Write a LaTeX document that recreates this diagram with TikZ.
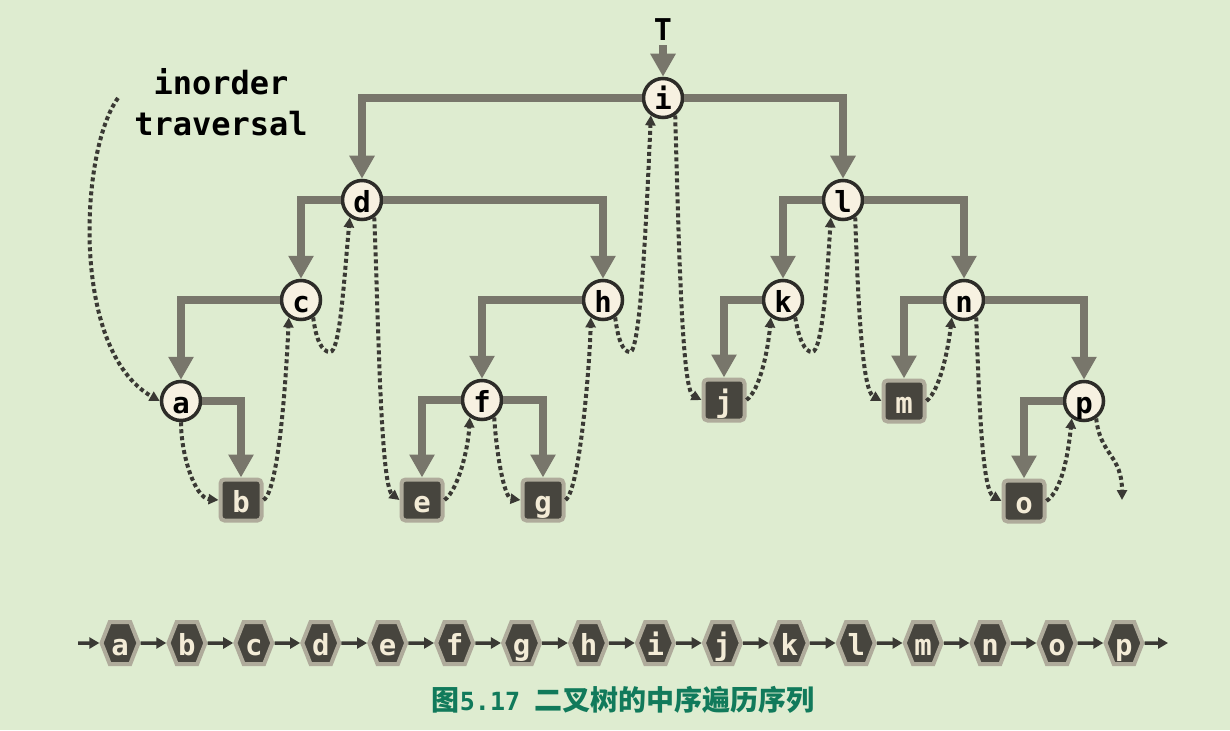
\documentclass[tikz,border=0pt]{standalone}
\usepackage{fontspec}
\setmonofont{DejaVu Sans Mono}
\newfontfamily\cjk{Noto Sans CJK SC}
\usetikzlibrary{arrows.meta,shapes.symbols}
\definecolor{bg}{HTML}{DEECD0}
\definecolor{edgegray}{HTML}{78766B}
\definecolor{cfill}{HTML}{F7F1E1}
\definecolor{cborder}{HTML}{2D2C28}
\definecolor{sqfill}{HTML}{47453E}
\definecolor{sqborder}{HTML}{AFAB9B}
\definecolor{cream}{HTML}{F3EBD6}
\definecolor{dotc}{HTML}{3A3934}
\definecolor{capc}{HTML}{117A5B}
\newcommand\lettfont{\fontsize{29}{29}\selectfont\ttfamily\bfseries}
\begin{document}
\begin{tikzpicture}[x=1pt,y=-1pt,
  tnode/.style={circle, draw=cborder, fill=cfill, line width=3.5pt, minimum size=39pt,
    inner sep=0pt, font=\lettfont, text=black, text height=24pt, text depth=0pt},
  sqnode/.style={rectangle, rounded corners=4pt, draw=sqborder, fill=sqfill, line width=4pt,
    minimum size=41pt, inner sep=0pt, font=\lettfont, text=cream, text height=24pt, text depth=0pt},
  hexnode/.style={signal, signal to=east and west, signal pointer angle=137, draw=sqborder,
    fill=sqfill, line width=4pt, minimum width=37pt, minimum height=42pt, inner sep=0pt,
    font=\lettfont, text=cream, text height=24pt, text depth=0pt},
  treeedge/.style={draw=edgegray, line width=8pt, -{Triangle[width=24pt,length=23pt]}},
  walk/.style={draw=dotc, line width=4pt, dash pattern=on 4pt off 3pt,
    -{Triangle[width=10pt,length=10pt]}},
  chain/.style={draw=dotc, line width=3.5pt, -{Triangle[width=11pt,length=10pt]}},
  lbl/.style={font=\fontsize{32}{41}\selectfont\ttfamily\bfseries, text=black, inner sep=0pt}
]
\fill[bg] (0,0) rectangle (1230,730);
\useasboundingbox (0,0) rectangle (1230,730);

% tree nodes
\node[tnode] (i) at (663,98) {i};
\node[tnode] (d) at (362,200) {d};
\node[tnode] (l) at (843,200) {l};
\node[tnode] (c) at (301,300) {c};
\node[tnode] (h) at (603,300) {h};
\node[tnode] (k) at (783,300) {k};
\node[tnode] (n) at (964,300) {n};
\node[tnode] (a) at (181,401) {a};
\node[tnode] (f) at (482,400) {f};
\node[sqnode] (j) at (724,400) {j};
\node[sqnode] (m) at (904,401) {m};
\node[tnode] (p) at (1084,401) {p};
\node[sqnode] (b) at (241,500) {b};
\node[sqnode] (e) at (422,500) {e};
\node[sqnode] (g) at (543,500) {g};
\node[sqnode] (o) at (1024,501) {o};

\node[font=\fontsize{30}{30}\selectfont\ttfamily\bfseries, inner sep=4pt] (T) at (663,30) {T};
\node[lbl, anchor=north, align=center] (lab) at (221,68) {inorder\\traversal};

% tree edges
\draw[treeedge] (T) -- (i);
\draw[treeedge] (i) -| (d);
\draw[treeedge] (i) -| (l);
\draw[treeedge] (d) -| (c);
\draw[treeedge] (d) -| (h);
\draw[treeedge] (c) -| (a);
\draw[treeedge] (a) -| (b);
\draw[treeedge] (h) -| (f);
\draw[treeedge] (f) -| (e);
\draw[treeedge] (f) -| (g);
\draw[treeedge] (l) -| (k);
\draw[treeedge] (l) -| (n);
\draw[treeedge] (k) -| (j);
\draw[treeedge] (n) -| (m);
\draw[treeedge] (n) -| (p);
\draw[treeedge] (p) -| (o);

% inorder walk
\coordinate (ws) at (118,98);
\coordinate (we) at (1122,500);
\coordinate (dip1) at (330,352);
\coordinate (dip2) at (630,352);
\coordinate (dip3) at (812,352);
\draw[walk] (ws) .. controls (80,150) and (70,350) .. (a.west);
\draw[walk] (a.south) .. controls (181,455) and (195,498) .. (b.west);
\draw[walk] (b.east) .. controls (280,490) and (287,360) .. (c.-125);
\draw[walk] (c.-55) .. controls (316,340) and (322,352) .. (dip1) .. controls (340,352) and (344,280) .. (d.-125);
\draw[walk] (d.-55) .. controls (378,300) and (380,485) .. (e.west);
\draw[walk] (e.east) .. controls (458,490) and (468,450) .. (f.-125);
\draw[walk] (f.-55) .. controls (497,460) and (505,498) .. (g.west);
\draw[walk] (g.east) .. controls (580,490) and (590,360) .. (h.-125);
\draw[walk] (h.-55) .. controls (618,340) and (623,352) .. (dip2) .. controls (640,352) and (646,230) .. (i.-125);
\draw[walk] (i.-55) .. controls (679,250) and (682,390) .. (j.west);
\draw[walk] (j.east) .. controls (760,390) and (768,350) .. (k.-125);
\draw[walk] (k.-55) .. controls (799,340) and (805,352) .. (dip3) .. controls (822,352) and (827,280) .. (l.-125);
\draw[walk] (l.-55) .. controls (858,300) and (862,390) .. (m.west);
\draw[walk] (m.east) .. controls (940,390) and (948,350) .. (n.-125);
\draw[walk] (n.-55) .. controls (979,400) and (982,490) .. (o.west);
\draw[walk] (o.east) .. controls (1062,490) and (1068,455) .. (p.-125);
\draw[walk] (p.-55) .. controls (1100,455) and (1122,455) .. (we);

% sequence
\foreach \L [count=\k from 0] in {a,b,c,d,e,f,g,h,i,j,k,l,m,n,o,p}
  \node[hexnode] (s\k) at ({120+66.93*\k},643) {\L};
\coordinate (cs) at (78,643);
\coordinate (ce) at (1168,643);
\draw[chain] (cs) -- (s0);
\foreach \k [count=\kn from 1] in {0,...,14}
  \draw[chain] (s\k) -- (s\kn);
\draw[chain] (s15) -- (ce);

% caption
\node[text=capc, inner sep=0pt] (cap) at (623,700)
  {\fontsize{28}{28}\selectfont\cjk\bfseries 图{\fontsize{25}{25}\selectfont\ttfamily 5.17}\hspace{14pt}二叉树的中序遍历序列};
\end{tikzpicture}
\end{document}
